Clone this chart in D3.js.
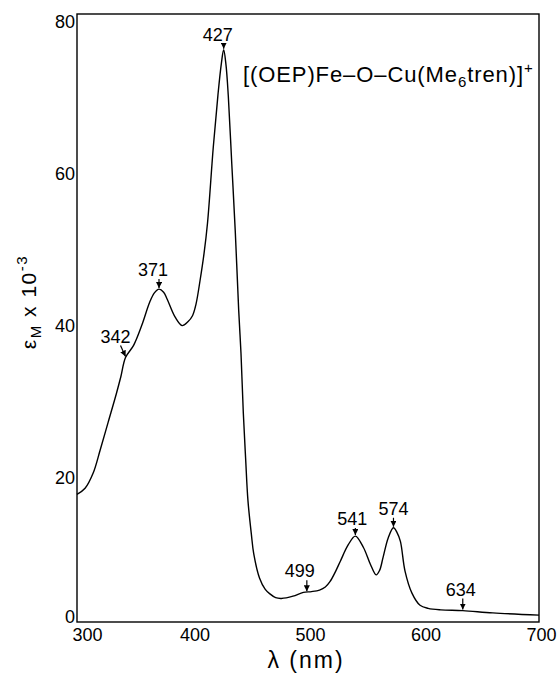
<!DOCTYPE html>
<html>
<head>
<meta charset="utf-8">
<script src="https://cdn.jsdelivr.net/npm/d3@7/dist/d3.min.js"></script>
<style>
  html, body { margin: 0; padding: 0; background: #fff; }
  svg { display: block; }
  text { font-family: 'Liberation Sans', Arial, sans-serif; fill: #000; }
</style>
</head>
<body>
<div id="chart"></div>
<script>
// spectrum (wavelength in nm, eps x 10^-3)
const wavelength = [300, 307, 314, 320, 327, 334, 338, 342, 349, 356, 363, 367, 371, 375, 378, 385, 391, 396, 400, 403, 406.5, 410, 413, 418, 422, 425, 427, 429, 431, 434, 437, 440, 442, 444, 446, 448, 451, 453, 458, 463, 467, 472, 477, 487, 496, 503, 510, 515, 519, 524, 528, 535, 541, 548, 554, 559, 562, 565, 569.5, 574, 577, 580, 584, 590, 597, 604, 615, 634, 660, 700]
const epsilon = [16.8, 17.6, 19.6, 22.6, 26.3, 30.0, 32.3, 34.8, 36.4, 39.0, 42.1, 43.3, 43.8, 43.4, 42.5, 40.1, 39.0, 39.5, 40.3, 41.8, 44.9, 48.5, 52.5, 62.5, 69.3, 73.5, 75.3, 73.3, 69.2, 60.3, 51.5, 41.0, 35.3, 27.5, 21.5, 16.0, 11.5, 9.0, 5.8, 4.3, 3.7, 3.2, 3.1, 3.4, 3.9, 4.0, 4.2, 4.6, 5.3, 6.7, 8.0, 10.2, 11.3, 9.8, 7.6, 6.2, 6.8, 8.5, 11.1, 12.4, 11.8, 10.6, 6.7, 3.8, 2.2, 1.8, 1.6, 1.5, 1.2, 0.9]

// band maxima / shoulders marked with arrows
const bands = [342, 371, 427, 499, 541, 574, 634]
const bandValue = [34.8, 43.8, 75.3, 3.9, 11.3, 12.4, 1.5]

const xTicks = [300, 400, 500, 600, 700]
const yTicks = [0, 20, 40, 60, 80]

const width = 557
const height = 675
const margin = { top: 14, right: 18, bottom: 53, left: 77 }

const x = d3.scaleLinear().domain([300, 700]).range([margin.left, width - margin.right])
const y = d3.scaleLinear().domain([0, 80]).range([height - margin.bottom, margin.top])

const svg = d3.select('#chart')
  .append('svg')
  .attr('width', width)
  .attr('height', height)

// frame
svg.append('rect')
  .attr('x', x(300))
  .attr('y', y(80))
  .attr('width', x(700) - x(300))
  .attr('height', y(0) - y(80))
  .attr('fill', 'none')
  .attr('stroke', '#000')
  .attr('stroke-width', 1.4)

// x axis, tick labels only
const xAxis = svg.append('g')
  .attr('transform', `translate(0,${y(0)})`)
  .call(d3.axisBottom(x).tickValues(xTicks).tickSize(0).tickPadding(6).tickFormat(d3.format('d')))
xAxis.select('.domain').remove()
xAxis.selectAll('text')
  .attr('font-size', 18)
  .attr('font-family', null)
  .attr('dx', d => d === 300 ? 10 : 2)

const yAxis = svg.append('g')
  .attr('transform', `translate(${x(300)},0)`)
  .call(d3.axisLeft(y).tickValues(yTicks).tickSize(0).tickPadding(2).tickFormat(d3.format('d')))
yAxis.select('.domain').remove()
yAxis.selectAll('text')
  .attr('font-size', 18)
  .attr('font-family', null)
  .attr('dy', d => d === 0 ? '0.05em' : '0.75em')

// axis titles
svg.append('text')
  .attr('x', 306)
  .attr('y', 668)
  .attr('text-anchor', 'middle')
  .attr('font-size', 23)
  .attr('letter-spacing', 2)
  .text('λ (nm)')

const yTitle = svg.append('text')
  .attr('transform', 'translate(36,302) rotate(-90)')
  .attr('text-anchor', 'middle')
  .attr('font-size', 21)
  .attr('letter-spacing', 1.5)
yTitle.append('tspan').text('ε')
yTitle.append('tspan').attr('font-size', 15).attr('dy', 5).text('M')
yTitle.append('tspan').attr('dy', -5).text(' x 10')
yTitle.append('tspan').attr('font-size', 15).attr('dy', -9).text('-3')

// spectrum
const line = d3.line()
  .x((d, i) => x(wavelength[i]))
  .y(d => y(d))
  .curve(d3.curveCatmullRom.alpha(0.5))

svg.append('path')
  .datum(epsilon)
  .attr('d', line)
  .attr('fill', 'none')
  .attr('stroke', '#000')
  .attr('stroke-width', 1.4)

// arrow marker
svg.append('defs').append('marker')
  .attr('id', 'arrow')
  .attr('viewBox', '0 -5 10 10')
  .attr('refX', 10)
  .attr('markerWidth', 5)
  .attr('markerHeight', 5)
  .attr('orient', 'auto')
  .append('path')
  .attr('d', 'M0,-5L10,0L0,5Z')
  .attr('fill', '#000')

// band labels: gap above curve, label nudges
const labelGap = [12, 10, 6, 12, 8, 10, 12]
const labelDx = [-10, -6, -6, -7, -3, 0, -2]
const arrowDx = [-5, 0, 0, 0, 0, 0, 0]

const ann = svg.append('g')
  .selectAll('g')
  .data(bands)
  .join('g')

ann.append('line')
  .attr('x1', (d, i) => x(d) + arrowDx[i])
  .attr('y1', (d, i) => y(bandValue[i]) - labelGap[i])
  .attr('x2', d => x(d))
  .attr('y2', (d, i) => y(bandValue[i]) - 1)
  .attr('stroke', '#000')
  .attr('stroke-width', 1.2)
  .attr('marker-end', 'url(#arrow)')

ann.append('text')
  .attr('x', (d, i) => x(d) + labelDx[i])
  .attr('y', (d, i) => y(bandValue[i]) - labelGap[i] - 3)
  .attr('text-anchor', 'middle')
  .attr('font-size', 18)
  .text(d => d)

// complex formula
const title = svg.append('text')
  .attr('x', 243)
  .attr('y', 82)
  .attr('font-size', 22)
  .attr('letter-spacing', 0.9)
title.append('tspan').text('[(OEP)Fe–O–Cu(Me')
title.append('tspan').attr('font-size', 15).attr('dy', 5).text('6')
title.append('tspan').attr('dy', -5).text('tren)]')
title.append('tspan').attr('font-size', 15).attr('dy', -9).text('+')
</script>
</body>
</html>
